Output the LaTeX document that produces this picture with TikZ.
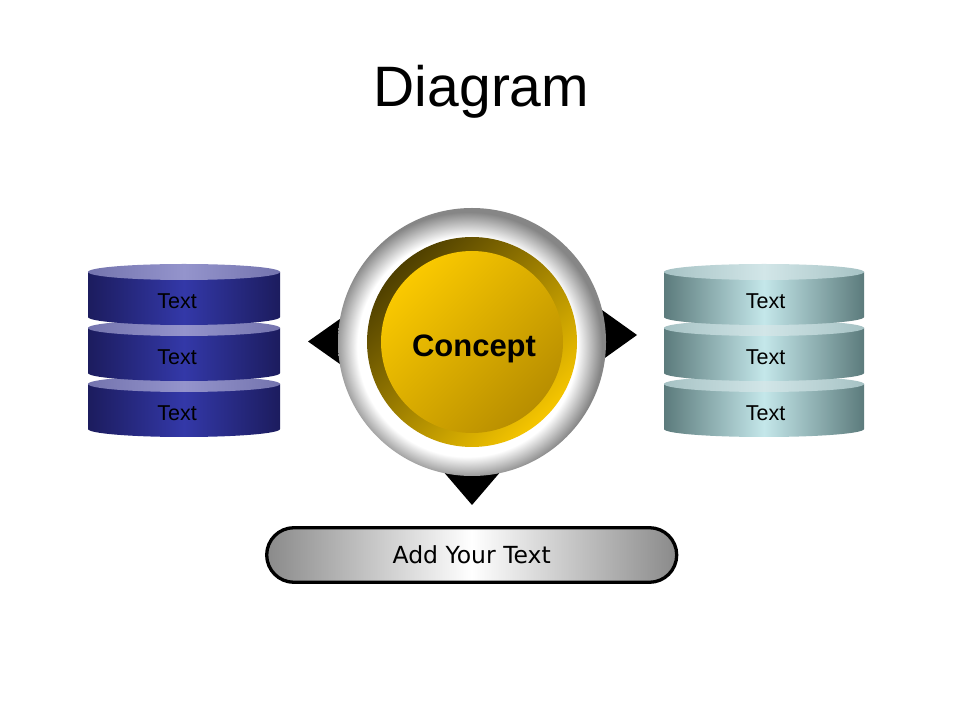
\documentclass[tikz,border=0pt]{standalone}
\usepackage{fontspec}
\setmainfont{Liberation Sans}
\newfontfamily\dejavu{DejaVu Sans}
\definecolor{bluedark}{HTML}{1C1C5E}
\definecolor{bluemid}{HTML}{3338A8}
\definecolor{bluetop}{HTML}{9494CC}
\definecolor{bluetopedge}{HTML}{7474AE}
\definecolor{tealdark}{HTML}{5C7B7C}
\definecolor{tealmid}{HTML}{C4E7EA}
\definecolor{tealtop}{HTML}{D2E6E8}
\definecolor{tealtopedge}{HTML}{A6C2C4}
\definecolor{golddark}{HTML}{4E3F00}
\definecolor{goldlight}{HTML}{F6C600}
\definecolor{goldin}{HTML}{FAC900}
\definecolor{goldinend}{HTML}{B88E00}
\definecolor{pillend}{HTML}{8A8A8A}
\definecolor{silveredge}{HTML}{868686}
\pgfdeclareradialshading{silverring}{\pgfpoint{-1.5bp}{-1.5bp}}{color(0bp)=(white); color(20.5bp)=(white); color(25bp)=(silveredge); color(50bp)=(silveredge)}
\tikzset{
  disctext/.style={anchor=base, font=\fontsize{21.5}{26}\selectfont},
  pill/.style={draw, line width=3.3pt, rounded corners=27.3pt, minimum width=410pt,
    minimum height=54.6pt, inner sep=0pt, left color=pillend, right color=pillend,
    middle color=white, font=\dejavu\fontsize{23.5}{28}\selectfont}
}
\begin{document}
\begin{tikzpicture}[x=1pt,y=1pt,line join=round]
\useasboundingbox[fill=white] (0,0) rectangle (960,720);
\def\ry{8};
\node[anchor=base, font=\fontsize{57}{68}\selectfont] (title) at (481.5,613) {Diagram};
% left stack
\def\lx{184};
\def\lr{96};
\foreach \t/\n in {336/l3,392/l2,448/l1}{
  \shade[left color=bluedark,right color=bluedark,middle color=bluemid] (\lx-\lr,\t) -- (\lx-\lr,\t-45) arc[start angle=180,end angle=360,x radius=\lr,y radius=\ry] -- (\lx+\lr,\t) -- cycle;
  \shade[left color=bluetopedge,right color=bluetopedge,middle color=bluetop] (\lx,\t) ellipse[x radius=\lr,y radius=\ry];
  \node[disctext] (\n) at (\lx-7,\t-36.3) {Text};
}
% right stack
\def\rx{764};
\def\rr{100};
\foreach \t/\n in {336/r3,392/r2,448/r1}{
  \shade[left color=tealdark,right color=tealdark,middle color=tealmid] (\rx-\rr,\t) -- (\rx-\rr,\t-45) arc[start angle=180,end angle=360,x radius=\rr,y radius=\ry] -- (\rx+\rr,\t) -- cycle;
  \shade[left color=tealtopedge,right color=tealtopedge,middle color=tealtop] (\rx,\t) ellipse[x radius=\rr,y radius=\ry];
  \node[disctext] (\n) at (\rx+1.5,\t-36.3) {Text};
}
% concept button
\coordinate (c) at (472,378);
\fill (c) ++(-164,0.5) -- ++(34,24) -- ++(0,-48) -- cycle;
\fill (c) ++(165,7) -- ++(-35,25) -- ++(0,-50) -- cycle;
\fill (c) ++(0,-163) -- ++(-31.7,37) -- ++(63.4,0) -- cycle;
\shade[shading=silverring] (c) circle[radius=134];
\shade[top color=golddark,bottom color=goldlight,shading angle=45] (c) circle[radius=105];
\shade[top color=goldin,bottom color=goldinend,shading angle=45] (c) circle[radius=91];
\node[anchor=base, font=\bfseries\fontsize{31}{37}\selectfont] (concept) at (474,363.3) {Concept};
% bottom bar
\node[pill] (addtext) at (471.7,165) {Add Your Text};
\end{tikzpicture}
\end{document}
